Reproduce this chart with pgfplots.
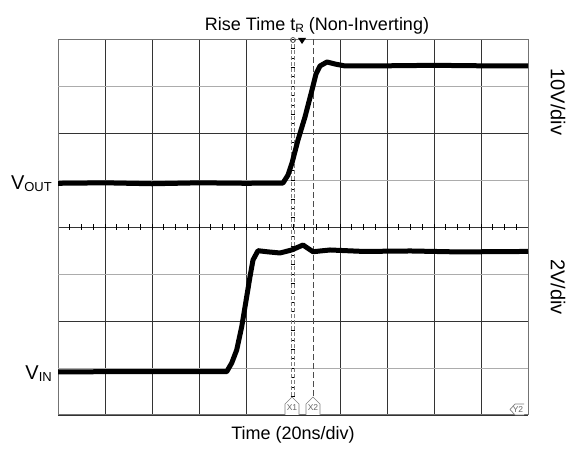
\documentclass[border=0pt]{standalone}
\usepackage{fontspec}
\setmainfont{Liberation Sans}
\usepackage{pgfplots}
\usepackage{pgfplotstable}
\pgfplotsset{compat=1.18}

% x and y in scope divisions (10 x 8)
\pgfplotstableread{
x y
0     4.93
1     4.94
2     4.92
3     4.94
4     4.93
4.787 4.936
4.894 5.106
4.979 5.362
5.106 5.851
5.255 6.340
5.404 6.915
5.489 7.255
5.574 7.426
5.723 7.511
5.894 7.468
6.106 7.426
7     7.43
8     7.44
9     7.43
10    7.43
}\vout

\pgfplotstableread{
x y
0     0.92
3.589 0.921
3.696 1.106
3.802 1.383
3.909 1.879
4.015 2.517
4.085 2.943
4.149 3.298
4.255 3.496
4.440 3.474
4.723 3.447
4.972 3.511
5.213 3.617
5.426 3.474
5.787 3.511
6.5   3.48
7.5   3.49
8.5   3.47
10    3.48
}\vin

\begin{document}
\begin{tikzpicture}
\useasboundingbox (0pt,0pt) rectangle (568pt,450pt);
\begin{axis}[
    at={(58pt,35pt)}, anchor=south west,
    scale only axis, width=470pt, height=376pt,
    xmin=0, xmax=10, ymin=0, ymax=8,
    xtick={0,1,2,3,4,6,7,8,9,10}, ytick={0,2,4,6,8},
    xticklabels={}, yticklabels={}, major tick length=0pt,
    grid=major, grid style={black!80, line width=0.9pt},
    axis line style={black!55, line width=1pt},
]
% lighter rows
\pgfplotsinvokeforeach{1,3,5,7}{\draw[gray!65, line width=0.9pt] (0,#1) -- (10,#1);}
% centre lines with small ticks
\pgfplotsinvokeforeach{0.25,0.5,...,9.8}{\draw[black, line width=0.6pt] (#1,3.94) -- (#1,4.06);}
\pgfplotsinvokeforeach{0.2,0.4,...,7.9}{\draw[black, line width=0.6pt] (4.95,#1) -- (5.05,#1);}
% cursors
\draw[gray, line width=0.9pt, dash pattern=on 4pt off 2pt] (4.97,0.4) -- (4.97,8);
\draw[gray, line width=0.9pt, dash pattern=on 4pt off 2pt] (5.03,0.4) -- (5.03,8);
\draw[black!70, line width=0.9pt, dash pattern=on 6pt off 3pt] (5.43,0.4) -- (5.43,8);

\addplot[black, line width=5pt, line join=round, no markers] table[x=x, y=y] {\vout};
\addplot[black, line width=5pt, line join=round, no markers] table[x=x, y=y] {\vin};
\end{axis}

\begin{scope}[x=1pt, y=1pt]
% cursor tags
\draw[gray, line width=0.7pt, fill=white] (285,35) -- (285,46) -- (292,53) -- (299,46) -- (299,35);
\node[gray!80!black, font=\fontsize{8.5}{8.5}\selectfont] at (292,42) {X1};
\draw[gray, line width=0.7pt, fill=white] (306,35) -- (306,46) -- (313,53) -- (320,46) -- (320,35);
\node[gray!80!black, font=\fontsize{8.5}{8.5}\selectfont] at (313,42) {X2};
\draw[gray, line width=0.7pt, fill=white] (524,35) -- (515,35) -- (510,40.5) -- (515,46) -- (524,46);
\node[gray!80!black, font=\fontsize{8.5}{8.5}\selectfont] at (518,40.5) {Y2};
% trigger marker
\fill[black] (298,412) -- (306,412) -- (302,406) -- cycle;
\draw[black!70, line width=0.7pt] (293,410) circle (2.5);

% labels
\node[anchor=base east, inner sep=0pt, font=\fontsize{20}{20}\selectfont] at (52,260)
    {V\raisebox{-1.5pt}{\fontsize{13}{13}\selectfont OUT}};
\node[anchor=base east, inner sep=0pt, font=\fontsize{20}{20}\selectfont] at (52,70)
    {V\raisebox{-1.5pt}{\fontsize{13}{13}\selectfont IN}};
\node[anchor=base, inner sep=0pt, font=\fontsize{18}{18}\selectfont] at (317,419)
    {Rise Time t\raisebox{-2pt}{\fontsize{12}{12}\selectfont R} (Non-Inverting)};
\node[anchor=base, inner sep=0pt, font=\fontsize{18}{18}\selectfont] at (293,10)
    {Time (20ns/div)};
\node[rotate=-90, inner sep=0pt, font=\fontsize{20}{20}\selectfont] at (558,348) {10V/div};
\node[rotate=-90, inner sep=0pt, font=\fontsize{20}{20}\selectfont] at (558,163) {2V/div};
\end{scope}
\end{tikzpicture}
\end{document}
